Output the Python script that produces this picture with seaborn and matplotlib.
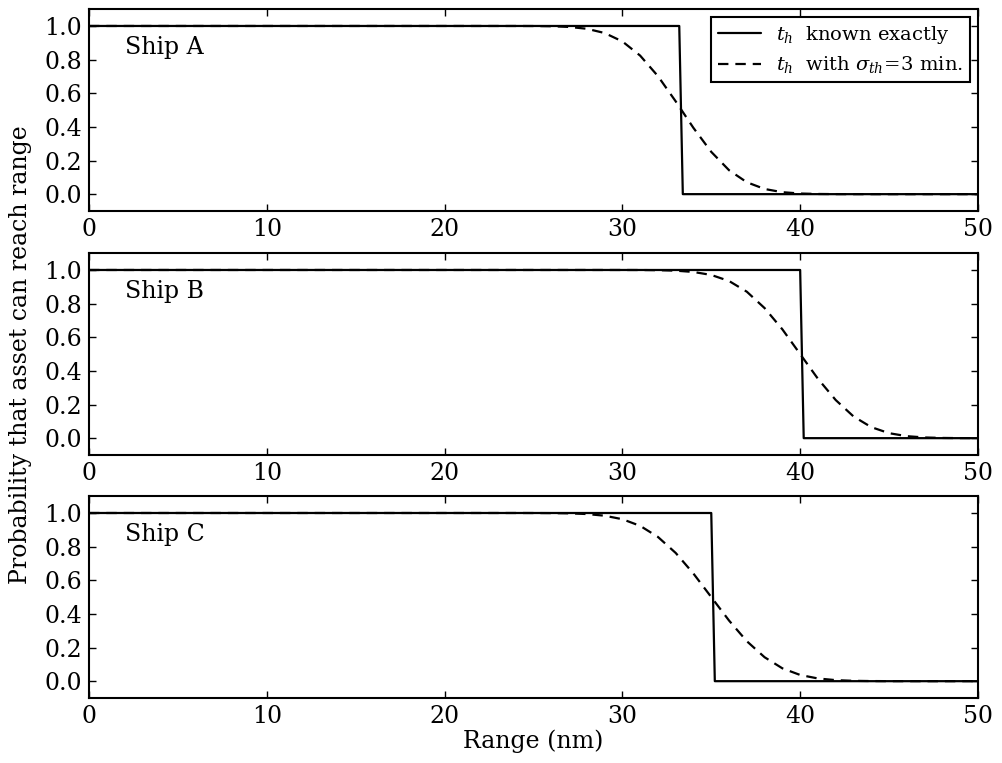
import matplotlib
matplotlib.use("Agg")
import matplotlib.pyplot as plt
import seaborn as sns
import pandas as pd

# ---------------- data ----------------
ships = ["Ship A", "Ship B", "Ship C"]

# t_h known exactly: step drop between two sample points
step_x_a = [0.0, 33.2, 33.4, 50.0]
step_x_b = [0.0, 40.0, 40.2, 50.0]
step_x_c = [0.0, 35.0, 35.2, 50.0]
step_y = [1.0, 1.0, 0.0, 0.0]

# t_h with sigma_th = 3 min
dash_x = [0, 10, 20, 24, 25, 26, 27, 28, 29, 30, 31, 32, 33, 34, 35, 36, 37,
          38, 39, 40, 41, 42, 43, 44, 45, 46, 47, 48, 49, 50]
dash_a = [1.0, 1.0, 1.0, 0.9999, 0.9996, 0.9983, 0.9943, 0.9834, 0.9582, 0.9082,
          0.8238, 0.7019, 0.5517, 0.3936, 0.2514, 0.1423, 0.0708, 0.0307, 0.0116,
          0.0038, 0.0011, 0.0003, 0.0001, 0.0, 0.0, 0.0, 0.0, 0.0, 0.0, 0.0]
dash_b = [1.0, 1.0, 1.0, 1.0, 1.0, 1.0, 1.0, 1.0, 1.0, 0.9999, 0.9997, 0.9987,
          0.9959, 0.9882, 0.9704, 0.9345, 0.8708, 0.7734, 0.647, 0.5, 0.353,
          0.2266, 0.1292, 0.0655, 0.0296, 0.0118, 0.0041, 0.0013, 0.0003, 0.0001]
dash_c = [1.0, 1.0, 1.0, 1.0, 0.9998, 0.9993, 0.9979, 0.9938, 0.9839, 0.9631,
          0.9236, 0.8577, 0.7624, 0.6395, 0.5, 0.3605, 0.2376, 0.1423, 0.0764,
          0.0369, 0.0161, 0.0062, 0.0021, 0.0007, 0.0002, 0.0001, 0.0, 0.0, 0.0, 0.0]

x_ticks = [0, 10, 20, 30, 40, 50]
y_ticks = [0.0, 0.2, 0.4, 0.6, 0.8, 1.0]

label_exact = r"$t_h$  known exactly"
label_sigma = r"$t_h$  with $\sigma_{th}\!=\!$3 min."

# ---------------- style ----------------
sns.set_style("ticks")
plt.rcParams.update({
    "font.family": ["DejaVu Serif"],
    "mathtext.fontset": "dejavuserif",
    "font.size": 17,
    "text.color": "black",
    "axes.labelcolor": "black",
    "xtick.color": "black",
    "ytick.color": "black",
    "axes.edgecolor": "black",
    "axes.linewidth": 1.5,
    "xtick.direction": "in",
    "ytick.direction": "in",
    "xtick.top": True,
    "ytick.right": True,
    "xtick.major.size": 5,
    "ytick.major.size": 5,
    "xtick.major.width": 1.0,
    "ytick.major.width": 1.0,
    "xtick.labelsize": 17,
    "ytick.labelsize": 17,
    "xtick.major.pad": 5,
    "ytick.major.pad": 5,
    "lines.scale_dashes": False,
})

fig = plt.figure(figsize=(10.02, 7.63), dpi=100)
bottoms = [0.7235, 0.4037, 0.0852]
height = 0.2645
left, width = 0.0888, 0.8872

step_xs = [step_x_a, step_x_b, step_x_c]
dash_ys = [dash_a, dash_b, dash_c]

axes = []
for i, ship in enumerate(ships):
    ax = fig.add_axes([left, bottoms[i], width, height])
    axes.append(ax)
    df_step = pd.DataFrame({"x": step_xs[i], "y": step_y})
    df_dash = pd.DataFrame({"x": dash_x, "y": dash_ys[i]})
    sns.lineplot(data=df_step, x="x", y="y", ax=ax, color="black", lw=1.6,
                 estimator=None, sort=False, label=label_exact)
    sns.lineplot(data=df_dash, x="x", y="y", ax=ax, color="black", lw=1.6,
                 estimator=None, sort=False, label=label_sigma,
                 dashes=False)
    ax.lines[-1].set_dashes((7.5, 5))
    ax.set_xlim(0, 50)
    ax.set_ylim(-0.1, 1.1)
    ax.set_xticks(x_ticks)
    ax.set_yticks(y_ticks)
    ax.set_yticklabels([f"{v:.1f}" for v in y_ticks])
    ax.set_xlabel("")
    ax.set_ylabel("")
    for s in ax.spines.values():
        s.set_visible(True)
        s.set_linewidth(1.5)
    ax.text(2, 0.87, ship, va="center", ha="left", fontsize=17)
    if i == 0:
        leg = ax.legend(loc="upper right", fancybox=False, framealpha=1,
                        edgecolor="black", fontsize=14, handlelength=2.2,
                        borderpad=0.35, labelspacing=0.45, handletextpad=0.8,
                        borderaxespad=0.4)
        leg.get_frame().set_linewidth(1.5)
    else:
        ax.get_legend().remove()

axes[2].set_xlabel("Range (nm)", fontsize=17, labelpad=1)
fig.text(0.02, 0.535, "Probability that asset can reach range", rotation=90,
         va="center", ha="center", fontsize=17)

fig.savefig("out.png", dpi=100)
